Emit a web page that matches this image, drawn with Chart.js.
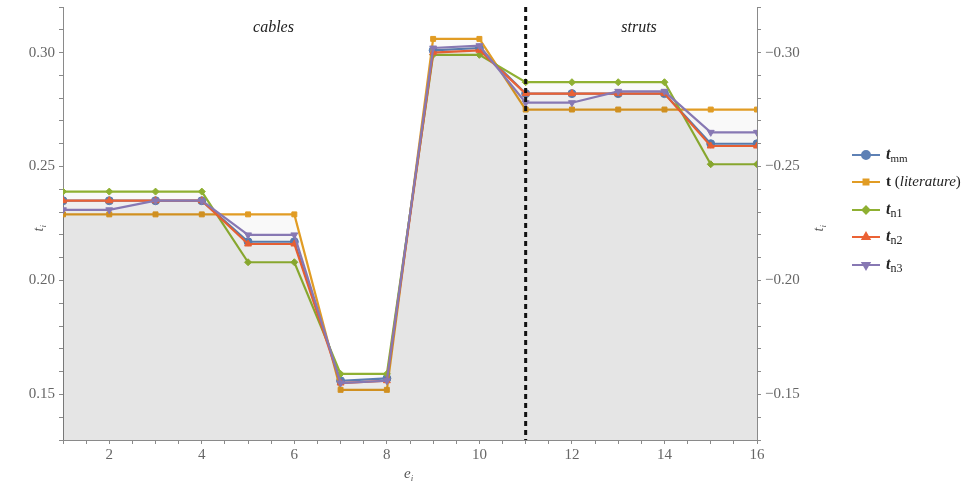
<!DOCTYPE html>
<html>
<head>
<meta charset="utf-8">
<script src="https://cdn.jsdelivr.net/npm/chart.js@4.4.1/dist/chart.umd.min.js"></script>
<style>
  html, body { margin: 0; padding: 0; background: #fff; }
</style>
</head>
<body>
<canvas id="tensionChart" width="968" height="491"></canvas>
<script>
// element index e_i
const elements = [1, 2, 3, 4, 5, 6, 7, 8, 9, 10, 11, 12, 13, 14, 15, 16];

// force densities
const tMM  = [0.235, 0.235, 0.235, 0.235, 0.217, 0.217, 0.156, 0.157, 0.301, 0.302, 0.282, 0.282, 0.282, 0.282, 0.260, 0.260];
const tLit = [0.229, 0.229, 0.229, 0.229, 0.229, 0.229, 0.152, 0.152, 0.306, 0.306, 0.275, 0.275, 0.275, 0.275, 0.275, 0.275];
const tN1  = [0.239, 0.239, 0.239, 0.239, 0.208, 0.208, 0.159, 0.159, 0.299, 0.299, 0.287, 0.287, 0.287, 0.287, 0.251, 0.251];
const tN2  = [0.235, 0.235, 0.235, 0.235, 0.216, 0.216, 0.155, 0.156, 0.300, 0.301, 0.282, 0.282, 0.282, 0.282, 0.259, 0.259];
const tN3  = [0.231, 0.231, 0.235, 0.235, 0.220, 0.220, 0.155, 0.156, 0.302, 0.303, 0.278, 0.278, 0.283, 0.283, 0.265, 0.265];

// cables are elements 1..10, struts 11..16
const boundary = 11;
const regionLabels = ["cables", "struts"];
const regionX = [5.55, 13.45];

const serif = "'Liberation Serif', 'DejaVu Serif', serif";

function toPoints(values) {
    return values.map((v, i) => ({ x: elements[i], y: v }));
}

function makeSet(label, values, color, style, radius, order) {
    return {
        label: label,
        data: toPoints(values),
        borderColor: color,
        backgroundColor: "rgba(0, 0, 0, 0.022)",
        pointBackgroundColor: color,
        pointBorderColor: color,
        pointStyle: style,
        pointRadius: radius,
        pointBorderWidth: 1,
        borderWidth: 2.2,
        fill: "start",
        tension: 0,
        order: order
    };
}

const datasets = [
    makeSet("t_mm", tMM, "#5e81b5", "circle", 4, 5),
    makeSet("t (literature)", tLit, "#e19c24", "rect", 3.5, 4),
    makeSet("t_n1", tN1, "#8fb032", "rectRot", 3.5, 3),
    makeSet("t_n2", tN2, "#eb6235", "triangle", 4, 2),
    makeSet("t_n3", tN3, "#8778b3", "triangle", 4, 1)
];
datasets[4].pointRotation = 180;

// legend parts: text pieces with their own font and baseline offset
const legendParts = [
    [{ t: "t", f: "italic bold 16px " + serif, dy: 0 }, { t: "mm", f: "11px " + serif, dy: 4 }],
    [{ t: "t", f: "bold 15px " + serif, dy: 0 }, { t: " (", f: "15px " + serif, dy: 0 }, { t: "literature", f: "italic 15px " + serif, dy: 0 }, { t: ")", f: "15px " + serif, dy: 0 }],
    [{ t: "t", f: "italic bold 16px " + serif, dy: 0 }, { t: "n1", f: "12px " + serif, dy: 4 }],
    [{ t: "t", f: "italic bold 16px " + serif, dy: 0 }, { t: "n2", f: "12px " + serif, dy: 4 }],
    [{ t: "t", f: "italic bold 16px " + serif, dy: 0 }, { t: "n3", f: "12px " + serif, dy: 4 }]
];

function drawParts(ctx, parts, x, y) {
    parts.forEach(p => {
        ctx.font = p.f;
        ctx.fillText(p.t, x, y + p.dy);
        x += ctx.measureText(p.t).width;
    });
}

const extras = {
    id: "extras",
    afterDatasetsDraw(chart) {
        const ctx = chart.ctx;
        const area = chart.chartArea;
        const xs = chart.scales.x;
        const ys = chart.scales.y;

        // dashed separator between cables and struts
        const bx = xs.getPixelForValue(boundary);
        ctx.save();
        ctx.strokeStyle = "#111";
        ctx.lineWidth = 3;
        ctx.setLineDash([5, 4]);
        ctx.beginPath();
        ctx.moveTo(bx, area.top);
        ctx.lineTo(bx, area.bottom);
        ctx.stroke();
        ctx.restore();

        // region labels
        ctx.save();
        ctx.fillStyle = "#222";
        ctx.font = "italic 16px " + serif;
        ctx.textAlign = "center";
        ctx.textBaseline = "middle";
        regionLabels.forEach((lab, i) => {
            ctx.fillText(lab, xs.getPixelForValue(regionX[i]), ys.getPixelForValue(0.311));
        });
        ctx.restore();
    },
    afterDraw(chart) {
        const ctx = chart.ctx;
        const area = chart.chartArea;

        // axis titles
        ctx.save();
        ctx.fillStyle = "#555";
        ctx.textBaseline = "alphabetic";
        const yMid = (area.top + area.bottom) / 2 + 4;
        [area.left - 20, area.right + 66].forEach(px => {
            ctx.save();
            ctx.translate(px, yMid);
            ctx.rotate(-Math.PI / 2);
            drawParts(ctx, [{ t: "t", f: "italic 14px " + serif, dy: 0 }, { t: "i", f: "italic 9px " + serif, dy: 3 }], -4, 0);
            ctx.restore();
        });
        drawParts(ctx, [{ t: "e", f: "italic 15px " + serif, dy: 0 }, { t: "i", f: "italic 9px " + serif, dy: 3 }], 404, 478);
        ctx.restore();

        // legend
        ctx.save();
        const lx = 852, tx = 886;
        const rows = [155, 182, 210, 237, 265];
        datasets.forEach((ds, i) => {
            const y = rows[i];
            ctx.strokeStyle = ds.borderColor;
            ctx.lineWidth = 2;
            ctx.beginPath();
            ctx.moveTo(lx, y);
            ctx.lineTo(lx + 28, y);
            ctx.stroke();
            ctx.fillStyle = ds.borderColor;
            Chart.helpers.drawPoint(ctx, {
                pointStyle: ds.pointStyle,
                radius: ds.pointRadius,
                rotation: ds.pointRotation || 0,
                borderWidth: 1
            }, lx + 14, y);
            ctx.fillStyle = "#222";
            ctx.textBaseline = "middle";
            drawParts(ctx, legendParts[i], tx, y);
        });
        ctx.restore();
    }
};

function isMajor(v) {
    return Math.abs(v * 20 - Math.round(v * 20)) < 1e-6;
}

const tickFont = { family: serif, size: 15 };
const axisColor = "#8a8a8a";

function fitVertical(width) {
    return s => {
        s.width = width;
        s.paddingTop = 0;
        s.paddingBottom = 0;
    };
}

new Chart(document.getElementById("tensionChart"), {
    type: "line",
    data: { datasets: datasets },
    options: {
        responsive: false,
        animation: false,
        layout: { padding: { top: 7, left: 0, right: 0, bottom: 0 } },
        plugins: {
            legend: { display: false },
            tooltip: { enabled: false }
        },
        scales: {
            x: {
                type: "linear",
                min: 1,
                max: 16,
                ticks: {
                    stepSize: 0.5,
                    autoSkip: false,
                    maxRotation: 0,
                    padding: 2,
                    color: "#666",
                    font: tickFont,
                    callback: v => (v % 2 === 0 ? String(v) : "")
                },
                grid: { drawOnChartArea: false, tickLength: 4, color: axisColor },
                border: { color: axisColor },
                afterFit: s => { s.height = 51; s.paddingLeft = 0; s.paddingRight = 0; }
            },
            y: {
                position: "left",
                min: 0.13,
                max: 0.32,
                ticks: {
                    stepSize: 0.01,
                    padding: 4,
                    color: "#666",
                    font: tickFont,
                    callback: v => (isMajor(v) ? v.toFixed(2) : "")
                },
                grid: { drawOnChartArea: false, tickLength: 4, color: axisColor },
                border: { color: axisColor },
                afterFit: fitVertical(63)
            },
            y2: {
                position: "right",
                min: 0.13,
                max: 0.32,
                ticks: {
                    stepSize: 0.01,
                    padding: 4,
                    color: "#666",
                    font: tickFont,
                    callback: v => (isMajor(v) ? "\u2212" + v.toFixed(2) : "")
                },
                grid: { drawOnChartArea: false, tickLength: 4, color: axisColor },
                border: { color: axisColor },
                afterFit: fitVertical(211)
            }
        }
    },
    plugins: [extras]
});
</script>
</body>
</html>
